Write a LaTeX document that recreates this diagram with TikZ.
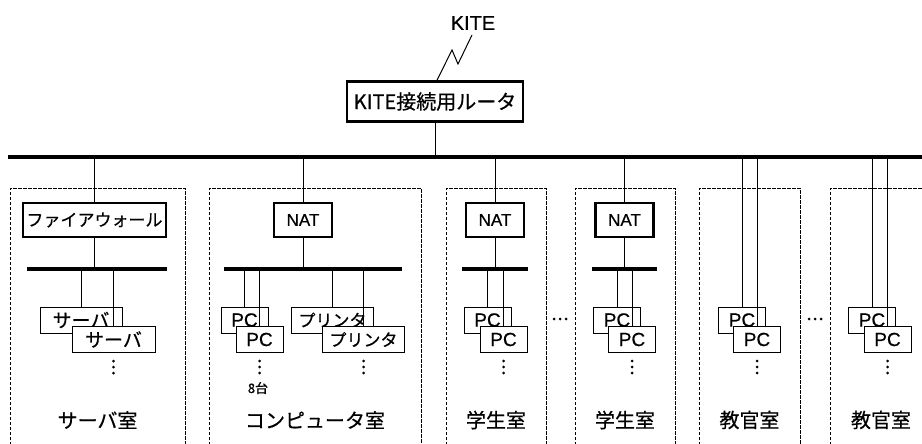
\documentclass[tikz,border=0pt]{standalone}
\usepackage{fontspec}
\setmainfont[FakeBold=0.6]{Liberation Sans}
\newfontfamily\jp[FakeBold=0.6]{Noto Sans CJK JP}
\begin{document}
\begin{tikzpicture}[x=1pt,y=-1pt,
  thickbox/.style={draw, line width=2.4pt, fill=white, inner sep=0pt, minimum height=34pt},
  thinbox/.style={draw, line width=1pt, fill=white, inner sep=0pt, minimum height=26pt},
  pcbox/.style={thinbox, minimum width=47pt, font=\fontsize{19}{19}\selectfont},
  conn/.style={line width=1pt},
  bus/.style={line width=3.6pt},
  room/.style={line width=1pt, dash pattern=on 3.5pt off 1.5pt},
  lbl/.style={font=\jp\fontsize{20}{20}\selectfont},
  natfont/.style={font=\fontsize{17}{17}\selectfont}
]
\useasboundingbox (0,0) rectangle (922,444);
\fill[white] (0,0) rectangle (922,444);

% rooms
\draw[room] (10,450) |- (185,188) -- (185,450);
\draw[room] (209,450) |- (421,188) -- (421,450);
\draw[room] (446,450) |- (546,188) -- (546,450);
\draw[room] (575,450) |- (675,188) -- (675,450);
\draw[room] (699,450) |- (800,188) -- (800,450);
\draw[room] (830,450) |- (935,188) -- (935,450);

% main bus and router
\coordinate (busL) at (8,157);
\coordinate (busR) at (925,157);
\draw[bus] (busL) -- (busR);
\node[thickbox, minimum width=176pt, minimum height=40pt, font=\jp\fontsize{20}{20}\selectfont] (router) at (435,101.5) {KITE接続用ルータ};
\draw[conn] (router.south) -- (router.south |- busL);
\node[font=\fontsize{20}{20}\selectfont, inner sep=0pt] (kite) at (473,23) {KITE};
\coordinate (kz1) at (452,50);
\coordinate (kz2) at (458,64);
\coordinate (kz3) at (472,35);
\draw[conn] ([xshift=2pt]router.north) -- (kz1) -- (kz2) -- (kz3);

% ---------- server room
\node[thickbox, minimum width=143pt, font=\jp\fontsize{17}{17}\selectfont] (fw) at (94.5,220) {ファイアウォール};
\draw[conn] (fw.north |- busL) -- (fw.north);
\coordinate (sbL1) at (27,269);
\coordinate (sbR1) at (167,269);
\draw[conn] (fw.south) -- (fw.south |- sbL1);
\draw[bus] (sbL1) -- (sbR1);
\node[thinbox, minimum width=82pt, font=\jp\fontsize{19}{19}\selectfont] (sv1) at (81,320) {サーバ};
\draw[conn] (sv1.north |- sbL1) -- (sv1.north);
\coordinate (sv2top) at (113.5,326);
\draw[conn] (sv2top |- sbL1) -- (sv2top);
\node[thinbox, minimum width=83pt, anchor=north, font=\jp\fontsize{19}{19}\selectfont] (sv2) at (sv2top) {サーバ};
\foreach \yy in {361,367,373} \fill (sv2.south |- 0,\yy) circle (1.5pt);
\node[lbl] (l1) at (97.5,420) {サーバ室};

% ---------- computer room
\node[thickbox, minimum width=58pt, natfont] (nat1) at (303,220) {NAT};
\draw[conn] (nat1.north |- busL) -- (nat1.north);
\coordinate (sbL2) at (224,269);
\coordinate (sbR2) at (402,269);
\draw[conn] (nat1.south) -- (nat1.south |- sbL2);
\draw[bus] (sbL2) -- (sbR2);
\node[pcbox] (pc2a) at (244.5,320) {PC};
\draw[conn] (pc2a.north |- sbL2) -- (pc2a.north);
\coordinate (pc2top) at (259.5,326);
\draw[conn] (pc2top |- sbL2) -- (pc2top);
\node[pcbox, anchor=north] (pc2b) at (pc2top) {PC};
\foreach \yy in {361,367,373} \fill (pc2b.south |- 0,\yy) circle (1.5pt);
\node[font=\jp\fontsize{13}{13}\selectfont] (eight) at (258,388) {8台};
\node[thinbox, minimum width=82pt, font=\jp\fontsize{17}{17}\selectfont] (pr1) at (332.5,320) {プリンタ};
\draw[conn] (pr1.north |- sbL2) -- (pr1.north);
\coordinate (pr2top) at (363.5,326);
\draw[conn] (pr2top |- sbL2) -- (pr2top);
\node[thinbox, minimum width=82pt, anchor=north, font=\jp\fontsize{17}{17}\selectfont] (pr2) at (pr2top) {プリンタ};
\foreach \yy in {361,367,373} \fill (pr2.south |- 0,\yy) circle (1.5pt);
\node[lbl] (l2) at (315,420) {コンピュータ室};

% ---------- student room 1
\node[thickbox, minimum width=58pt, natfont] (nat2) at (495,220) {NAT};
\draw[conn] (nat2.north |- busL) -- (nat2.north);
\coordinate (sbL3) at (462,269);
\coordinate (sbR3) at (528,269);
\draw[conn] (nat2.south) -- (nat2.south |- sbL3);
\draw[bus] (sbL3) -- (sbR3);
\node[pcbox] (pc3a) at (487.5,320) {PC};
\draw[conn] (pc3a.north |- sbL3) -- (pc3a.north);
\coordinate (pc3top) at (503.5,326);
\draw[conn] (pc3top |- sbL3) -- (pc3top);
\node[pcbox, anchor=north] (pc3b) at (pc3top) {PC};
\foreach \yy in {361,367,373} \fill (pc3b.south |- 0,\yy) circle (1.5pt);
\node[lbl] (l3) at (496,420) {学生室};
\foreach \xx in {554,560,566} \fill (\xx,319) circle (1.5pt);

% ---------- student room 2
\node[thickbox, minimum width=58pt, natfont] (nat3) at (624.5,220) {NAT};
\draw[conn] (nat3.north |- busL) -- (nat3.north);
\coordinate (sbL4) at (592,269);
\coordinate (sbR4) at (657,269);
\draw[conn] (nat3.south) -- (nat3.south |- sbL4);
\draw[bus] (sbL4) -- (sbR4);
\node[pcbox] (pc4a) at (617,320) {PC};
\draw[conn] (pc4a.north |- sbL4) -- (pc4a.north);
\coordinate (pc4top) at (632,326);
\draw[conn] (pc4top |- sbL4) -- (pc4top);
\node[pcbox, anchor=north] (pc4b) at (pc4top) {PC};
\foreach \yy in {361,367,373} \fill (pc4b.south |- 0,\yy) circle (1.5pt);
\node[lbl] (l4) at (625,420) {学生室};

% ---------- faculty room 1
\node[pcbox] (pc5a) at (742,320) {PC};
\draw[conn] (pc5a.north |- busL) -- (pc5a.north);
\coordinate (pc5top) at (757,326);
\draw[conn] (pc5top |- busL) -- (pc5top);
\node[pcbox, anchor=north] (pc5b) at (pc5top) {PC};
\foreach \yy in {361,367,373} \fill (pc5b.south |- 0,\yy) circle (1.5pt);
\node[lbl] (l5) at (749.5,420) {教官室};
\foreach \xx in {809,815,821} \fill (\xx,319) circle (1.5pt);

% ---------- faculty room 2
\node[pcbox] (pc6a) at (872,320) {PC};
\draw[conn] (pc6a.north |- busL) -- (pc6a.north);
\coordinate (pc6top) at (887.5,326);
\draw[conn] (pc6top |- busL) -- (pc6top);
\node[pcbox, anchor=north] (pc6b) at (pc6top) {PC};
\foreach \yy in {361,367,373} \fill (pc6b.south |- 0,\yy) circle (1.5pt);
\node[lbl] (l6) at (881,420) {教官室};
\end{tikzpicture}
\end{document}
